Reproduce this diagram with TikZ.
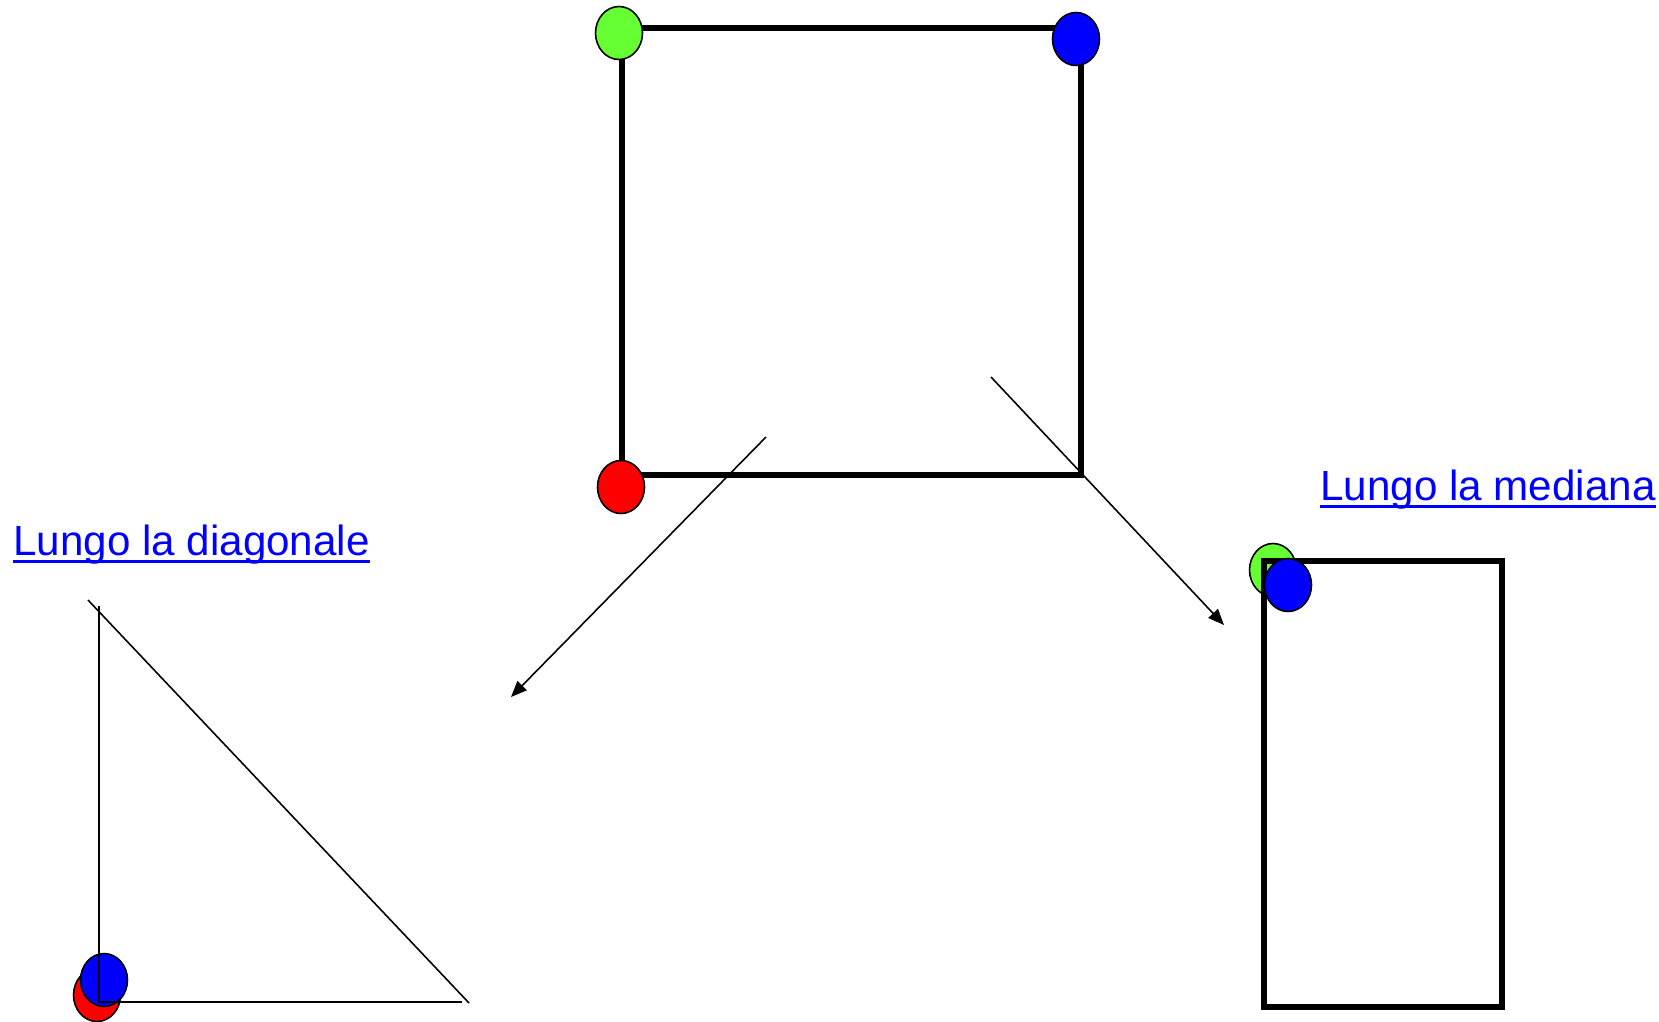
\documentclass[tikz,border=0pt]{standalone}
\usepackage{fontspec}
\setmainfont{Liberation Sans}
\usetikzlibrary{arrows.meta,calc,positioning,shapes.geometric}
\definecolor{dotgreen}{RGB}{102,255,51}

\begin{document}
\begin{tikzpicture}[x=0.02cm,y=-0.02cm,>={Triangle[length=0.32cm,width=0.26cm]},
  dot/.style={draw,ellipse,line width=0.9pt,minimum width=0.94cm,minimum height=1.06cm,inner sep=0pt},
  frame/.style={line width=3.2pt},
  thin/.style={line width=0.9pt},
  link/.style={text=blue,font=\fontsize{24}{28}\selectfont,inner sep=0pt}]
\useasboundingbox (0,0) rectangle (1659,1021);
% square
\coordinate (s1) at (622,28);
\coordinate (s2) at (1081,28);
\coordinate (s3) at (1081,475);
\coordinate (s4) at (622,475);
\draw[frame] (s2) -- (s1) -- (s4) -- (s3) -- cycle;
\node[dot,fill=dotgreen] (g) at (619,33) {};
\node[dot,fill=blue] (b) at (1076,39) {};
\node[dot,fill=red] (r) at (621,487) {};
% arrows
\coordinate (p1) at (766,437);
\coordinate (q1) at (511,697);
\coordinate (p2) at (991,377);
\coordinate (q2) at (1224,625);
\foreach \x/\y in {p1/q1,p2/q2} \draw[thin,->] (\x) -- (\y);
% diagonal fold
\node[dot,fill=red] (r2) at (97,995) {};
\node[dot,fill=blue] (b2) at (104,980) {};
\coordinate (t1) at (99,606);
\coordinate (t2) at (99,1002);
\coordinate (t3) at (462,1002);
\coordinate (t4) at (88,600);
\coordinate (t5) at (469,1003);
\draw[thin] (t1) -- (t2) -- (t3);
\draw[thin] (t4) -- (t5);
% median fold
\node[dot,fill=dotgreen] (g3) at (1273,570) {};
\coordinate (m1) at (1264,561);
\coordinate (m2) at (1502,1007);
\draw[line width=3.4pt] (m1) rectangle (m2);
\node[dot,fill=blue] (b3) at (1288,585) {};
% labels
\node[link,anchor=base west] (d) at (13,555) {Lungo la diagonale};
\node[link,anchor=base west] (m) at (1320,500) {Lungo la mediana};
\foreach \n in {d,m} \draw[blue,line width=1.7pt] ([yshift=-3.7pt]\n.base west) -- ([yshift=-3.7pt]\n.base east);
\end{tikzpicture}
\end{document}
